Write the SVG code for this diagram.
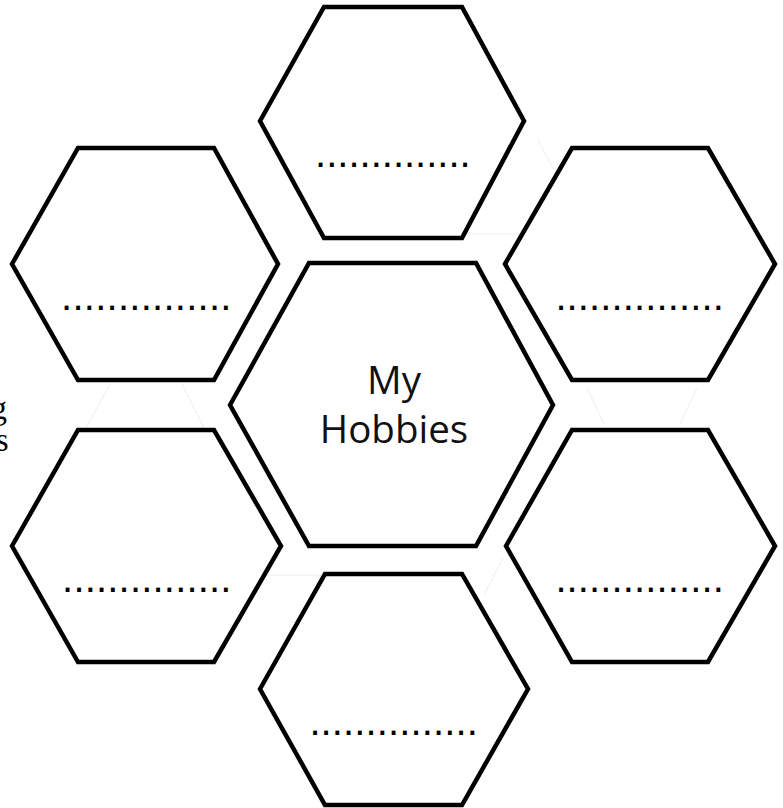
<svg xmlns="http://www.w3.org/2000/svg" width="783" height="808" viewBox="0 0 783 808">
<style>
.hex{fill:#fff;stroke:#000;stroke-width:4.5;stroke-linejoin:miter}
.dots{font-family:"Liberation Sans",Arial,sans-serif;font-size:40px;fill:#000}
.title{font-family:"Open Sans","Liberation Sans",sans-serif;font-size:38.5px;fill:#111;text-anchor:middle}
.side{font-family:"Liberation Serif","Times New Roman",serif;font-size:33px;fill:#000;text-anchor:end}
.faint{stroke:#eeeeee;stroke-width:1;fill:none}
</style>
<rect width="783" height="808" fill="#fff"/>
<g id="connectors">
<line class="faint" x1="110" y1="384" x2="85" y2="430"/>
<line class="faint" x1="182" y1="384" x2="204" y2="428"/>
<line class="faint" x1="587" y1="388" x2="604" y2="424"/>
<line class="faint" x1="697" y1="388" x2="680" y2="424"/>
<line class="faint" x1="462" y1="234" x2="520" y2="234"/>
<line class="faint" x1="538" y1="140" x2="554" y2="170"/>
<line class="faint" x1="255" y1="575" x2="325" y2="575"/>
<line class="faint" x1="503" y1="558" x2="484" y2="595"/>
</g>
<text class="side" x="7" y="419">g</text>
<text class="side" x="8.5" y="451">s</text>
<g id="hex-top">
<polygon class="hex" points="260,121 324,7 462,7 524,121 462,238 324,238"/>
<text class="dots" x="315.1" y="167">..............</text>
</g>
<g id="hex-left-top">
<polygon class="hex" points="12,264 78,148 214,148 278,264 214,380 78,380"/>
<text class="dots" x="61.1" y="310.3" letter-spacing="0.26">...............</text>
</g>
<g id="hex-right-top">
<polygon class="hex" points="505,264 572,148 708,148 775,264 708,380 572,380"/>
<text class="dots" x="555.4" y="310.3" letter-spacing="0.12">...............</text>
</g>
<g id="hex-center">
<polygon class="hex" points="230,405 309,263 476,263 553,405 476,546 309,546"/>
<text class="title" x="394" y="394">My</text>
<text class="title" x="394" y="443">Hobbies</text>
</g>
<g id="hex-left-bottom">
<polygon class="hex" points="12,546 78,430 214,430 281,546 214,662 78,662"/>
<text class="dots" x="62.1" y="592" letter-spacing="0.19">...............</text>
</g>
<g id="hex-right-bottom">
<polygon class="hex" points="506,546 572,430 708,430 775,546 708,662 572,662"/>
<text class="dots" x="555.4" y="592" letter-spacing="0.12">...............</text>
</g>
<g id="hex-bottom">
<polygon class="hex" points="260,689 325,574 462,574 528,689 462,805 325,805"/>
<text class="dots" x="309.4" y="735.3" letter-spacing="0.12">...............</text>
</g>
</svg>
